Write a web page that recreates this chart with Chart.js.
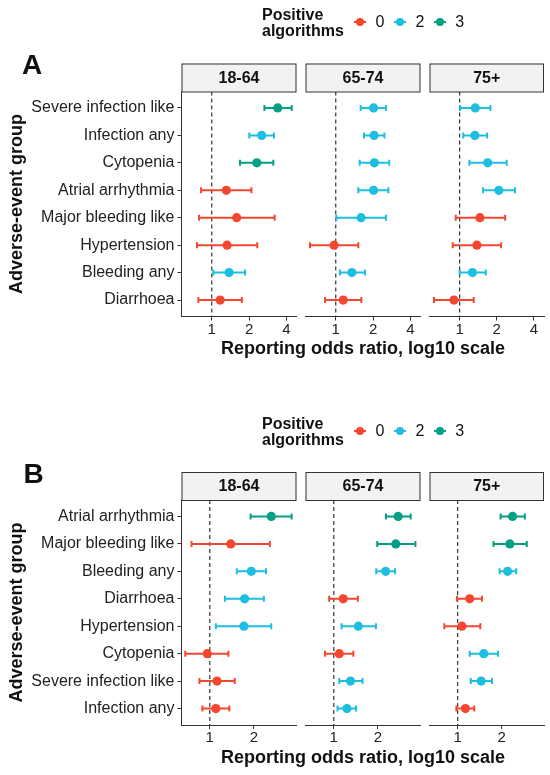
<!DOCTYPE html>
<html>
<head>
<meta charset="utf-8">
<script src="https://cdn.jsdelivr.net/npm/chart.js@4.4.0/dist/chart.umd.min.js"></script>
<style>
  body { margin: 0; background: #fff; font-family: 'Liberation Sans', Arial, sans-serif; color: #111; }
  #page { position: relative; width: 550px; height: 775px; overflow: hidden; }
  .layer { position: absolute; left: 0; top: 0; width: 550px; height: 775px; }
  .tag { position: absolute; font-weight: bold; font-size: 28px; line-height: 28px; }
  .lgTitle { position: absolute; font-weight: bold; font-size: 16px; line-height: 16px; }
  .lgItems { position: absolute; display: flex; align-items: center; gap: 9.5px; font-size: 16px; height: 16px; }
  .lgItem { display: flex; align-items: center; gap: 9.5px; }
  .glyph { position: relative; width: 12px; height: 10px; }
  .glyph .bar { position: absolute; left: 0; top: 4px; width: 12px; height: 2px; }
  .glyph .dot { position: absolute; left: 2px; top: 1px; width: 8px; height: 8px; border-radius: 50%; }
</style>
</head>
<body>
<div id="page"></div>
<script>
// age facets and legend levels
const ageGroups = ['18-64', '65-74', '75+'];
const algoLevels = [0, 2, 3];
const algoColors = { 0: '#F5472F', 2: '#1DBEDF', 3: '#03A084' };

// x ticks (log10 scale)
const xTicksA = [1, 2, 4];
const xTicksB = [1, 2];

// --- panel A ---
const eventsA = ['Severe infection like', 'Infection any', 'Cytopenia', 'Atrial arrhythmia',
  'Major bleeding like', 'Hypertension', 'Bleeding any', 'Diarrhoea'];

const estA1864 = [3.41, 2.53, 2.31, 1.31, 1.59, 1.33, 1.38, 1.17];
const loA1864 = [2.66, 2.01, 1.69, 0.82, 0.79, 0.76, 1.03, 0.78];
const hiA1864 = [4.42, 3.18, 3.14, 2.09, 3.22, 2.33, 1.86, 1.75];
const algA1864 = [3, 2, 3, 0, 0, 0, 2, 0];

const estA6574 = [2.02, 2.04, 2.05, 2.02, 1.60, 0.97, 1.35, 1.15];
const loA6574 = [1.59, 1.69, 1.56, 1.52, 1.01, 0.62, 1.08, 0.82];
const hiA6574 = [2.54, 2.47, 2.70, 2.66, 2.54, 1.52, 1.72, 1.61];
const algA6574 = [2, 2, 2, 2, 2, 0, 2, 0];

const estA75 = [1.34, 1.33, 1.69, 2.08, 1.46, 1.38, 1.27, 0.90];
const loA75 = [1.01, 1.07, 1.20, 1.55, 0.93, 0.88, 1.00, 0.62];
const hiA75 = [1.78, 1.67, 2.41, 2.81, 2.34, 2.17, 1.63, 1.30];
const algA75 = [2, 2, 2, 2, 0, 0, 2, 0];

// --- panel B ---
const eventsB = ['Atrial arrhythmia', 'Major bleeding like', 'Bleeding any', 'Diarrhoea',
  'Hypertension', 'Cytopenia', 'Severe infection like', 'Infection any'];

const estB1864 = [2.63, 1.39, 1.92, 1.73, 1.71, 0.96, 1.12, 1.10];
const loB1864 = [1.90, 0.75, 1.53, 1.27, 1.10, 0.68, 0.85, 0.89];
const hiB1864 = [3.62, 2.57, 2.42, 2.34, 2.63, 1.34, 1.48, 1.36];
const algB1864 = [3, 0, 2, 2, 2, 0, 0, 0];

const estB6574 = [2.75, 2.65, 2.26, 1.16, 1.47, 1.09, 1.30, 1.23];
const loB6574 = [2.27, 1.98, 1.95, 0.93, 1.13, 0.87, 1.09, 1.06];
const hiB6574 = [3.35, 3.61, 2.62, 1.46, 1.94, 1.36, 1.57, 1.42];
const algB6574 = [3, 3, 2, 0, 2, 0, 2, 2];

const estB75 = [2.38, 2.28, 2.20, 1.21, 1.07, 1.51, 1.45, 1.13];
const loB75 = [1.97, 1.76, 1.94, 0.99, 0.81, 1.21, 1.23, 0.98];
const hiB75 = [2.89, 2.98, 2.52, 1.47, 1.43, 1.89, 1.72, 1.30];
const algB75 = [3, 3, 2, 0, 0, 2, 2, 0];

const xTitle = 'Reporting odds ratio, log10 scale';
const yTitle = 'Adverse-event group';

// layout (px)
const panelLeft = [181.5, 305.5, 429.5];
const panelW = 115;
const xAxisH = 46.3;
const stripH = 28;
const FONT = "'Liberation Sans', Arial, sans-serif";

Chart.defaults.font.family = FONT;
Chart.defaults.color = '#222';

const figures = [
  { tag: 'A', events: eventsA, ticks: xTicksA, min: 0.57, max: 4.83, top: 91.5, bottom: 316.5, shift: 0,
    panels: [
      { est: estA1864, lo: loA1864, hi: hiA1864, alg: algA1864 },
      { est: estA6574, lo: loA6574, hi: hiA6574, alg: algA6574 },
      { est: estA75, lo: loA75, hi: hiA75, alg: algA75 }
    ] },
  { tag: 'B', events: eventsB, ticks: xTicksB, min: 0.641, max: 3.91, top: 500, bottom: 725, shift: 409,
    panels: [
      { est: estB1864, lo: loB1864, hi: hiB1864, alg: algB1864 },
      { est: estB6574, lo: loB6574, hi: hiB6574, alg: algB6574 },
      { est: estB75, lo: loB75, hi: hiB75, alg: algB75 }
    ] }
];

// grey facet strip above the plot area, and the shared x title under the middle panel
const stripPlugin = {
  id: 'strip',
  afterDraw(chart, args, opts) {
    const { ctx, chartArea: a } = chart;
    const y0 = a.top - stripH;
    ctx.save();
    ctx.fillStyle = '#F2F2F2';
    ctx.fillRect(a.left, y0, a.width, stripH);
    ctx.strokeStyle = '#333';
    ctx.lineWidth = 1;
    ctx.strokeRect(a.left + 0.5, y0 + 0.5, a.width - 1, stripH);
    ctx.fillStyle = '#111';
    ctx.font = 'bold 16px ' + FONT;
    ctx.textAlign = 'center';
    ctx.textBaseline = 'middle';
    ctx.fillText(opts.text, (a.left + a.right) / 2, y0 + stripH / 2 + 1);
    if (opts.title) {
      ctx.font = 'bold 18px ' + FONT;
      ctx.textBaseline = 'alphabetic';
      ctx.fillText(opts.title, (a.left + a.right) / 2, a.bottom + 37.5);
    }
    ctx.restore();
  }
};

const page = document.getElementById('page');

function makePanel(fig, p, k) {
  const layer = document.createElement('div');
  layer.className = 'layer';
  const canvas = document.createElement('canvas');
  layer.appendChild(canvas);
  page.appendChild(layer);

  const n = fig.events.length;
  const datasets = [];
  datasets.push({
    data: p.est.map((v, i) => ({ x: v, y: i })),
    pointBackgroundColor: p.alg.map(a => algoColors[a]),
    pointBorderWidth: 0,
    pointRadius: 4.6,
    order: 0
  });
  p.lo.forEach((lo, i) => {
    const c = algoColors[p.alg[i]];
    datasets.push({
      data: [{ x: lo, y: i }, { x: p.hi[i], y: i }],
      showLine: true,
      borderColor: c,
      borderWidth: 2,
      pointStyle: 'line',
      pointRotation: 90,
      pointRadius: 3,
      pointBorderWidth: 2,
      pointBorderColor: c,
      order: 1
    });
  });
  datasets.push({
    data: [{ x: 1, y: -0.6 }, { x: 1, y: n - 0.4 }],
    showLine: true,
    borderColor: '#333',
    borderWidth: 1.2,
    borderDash: [4, 3],
    pointRadius: 0,
    order: 2
  });

  const left = panelLeft[k];
  new Chart(canvas, {
    type: 'scatter',
    data: { datasets },
    plugins: [stripPlugin],
    options: {
      responsive: true,
      maintainAspectRatio: false,
      animation: false,
      events: [],
      layout: {
        padding: {
          left: k === 0 ? 2 : left,
          right: 550 - left - panelW,
          top: fig.top,
          bottom: 775 - fig.bottom - xAxisH
        }
      },
      plugins: {
        legend: { display: false },
        tooltip: { enabled: false },
        strip: { text: ageGroups[k], title: k === 1 ? xTitle : null }
      },
      scales: {
        x: {
          type: 'logarithmic',
          min: fig.min,
          max: fig.max,
          bounds: 'data',
          afterBuildTicks: s => { s.ticks = fig.ticks.map(v => ({ value: v })); },
          afterFit: s => { s.height = xAxisH; },
          ticks: { callback: v => String(v), font: { size: 15 }, color: '#222', padding: 0, maxRotation: 0, autoSkip: false },
          grid: { drawOnChartArea: false, drawTicks: true, tickLength: 4, color: '#333', lineWidth: 1 },
          border: { display: true, color: '#333', width: 1 }
        },
        y: {
          type: 'linear',
          reverse: true,
          min: -0.6,
          max: n - 0.4,
          display: k === 0,
          afterBuildTicks: s => { s.ticks = fig.events.map((_, i) => ({ value: i })); },
          afterFit: s => { s.width = k === 0 ? panelLeft[0] - 2 : 0; },
          ticks: { callback: v => fig.events[v], font: { size: 16 }, color: '#222', padding: 3, autoSkip: false },
          grid: { drawOnChartArea: false, drawTicks: true, tickLength: 4, color: '#333', lineWidth: 1 },
          border: { display: true, color: '#333', width: 1 },
          title: {
            display: true,
            text: yTitle,
            font: { size: 18, weight: 'bold' },
            color: '#111',
            padding: { top: 4, bottom: 4 }
          }
        }
      }
    }
  });
}

function addLegend(fig) {
  const tag = document.createElement('div');
  tag.className = 'tag';
  tag.textContent = fig.tag;
  tag.style.left = (fig.tag === 'A' ? 22 : 23.5) + 'px';
  tag.style.top = (51.3 + fig.shift) + 'px';
  page.appendChild(tag);

  const title = document.createElement('div');
  title.className = 'lgTitle';
  title.innerHTML = 'Positive<br>algorithms';
  title.style.left = '262px';
  title.style.top = (6.5 + fig.shift) + 'px';
  page.appendChild(title);

  const items = document.createElement('div');
  items.className = 'lgItems';
  items.style.left = '354px';
  items.style.top = (14 + fig.shift) + 'px';
  algoLevels.forEach(l => {
    const it = document.createElement('div');
    it.className = 'lgItem';
    const g = document.createElement('div');
    g.className = 'glyph';
    g.innerHTML = '<div class="bar" style="background:' + algoColors[l] + '"></div>' +
      '<div class="dot" style="background:' + algoColors[l] + '"></div>';
    const t = document.createElement('span');
    t.textContent = String(l);
    it.appendChild(g);
    it.appendChild(t);
    items.appendChild(it);
  });
  page.appendChild(items);
}

figures.forEach(fig => {
  fig.panels.forEach((p, k) => makePanel(fig, p, k));
  addLegend(fig);
});
</script>
</body>
</html>
